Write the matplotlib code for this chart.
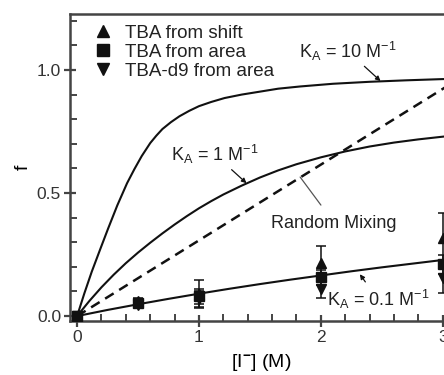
import matplotlib
matplotlib.use("Agg")
import matplotlib.pyplot as plt
from matplotlib.lines import Line2D
import numpy as np

INK, AXC = "#111111", "#444444"
plt.rcParams.update({
    "font.family": ["Liberation Sans", "DejaVu Sans"],
    "mathtext.fontset": "custom",
    "mathtext.rm": "Liberation Sans",
    "mathtext.it": "Liberation Sans:italic",
    "mathtext.bf": "Liberation Sans:bold",
    "text.color": "#222222",
})

# model curves
k10_c = [0, 0.06, 0.12, 0.19, 0.254, 0.33, 0.41, 0.47, 0.53, 0.6, 0.65, 0.7, 0.77, 0.84,
         0.92, 1.0, 1.1, 1.21, 1.35, 1.5, 1.65, 1.83, 2.1, 2.4, 2.7, 3.0, 3.25]
k10_f = [0, 0.093, 0.18, 0.272, 0.355, 0.45, 0.54, 0.597, 0.65, 0.703, 0.733, 0.76, 0.788, 0.812,
         0.834, 0.853, 0.87, 0.886, 0.9, 0.912, 0.924, 0.933, 0.944, 0.952, 0.958, 0.963, 0.966]
k1_c = [0, 0.1, 0.2, 0.3, 0.4, 0.5, 0.6, 0.7, 0.8, 0.9, 1.0, 1.1, 1.2, 1.35, 1.5, 1.65,
        1.8, 2.0, 2.2, 2.4, 2.6, 2.8, 3.0, 3.25]
k1_f = [0, 0.061, 0.117, 0.168, 0.215, 0.258, 0.298, 0.336, 0.372, 0.406, 0.438, 0.467, 0.494,
        0.53, 0.563, 0.592, 0.617, 0.645, 0.669, 0.689, 0.705, 0.718, 0.729, 0.741]
k01_c = [0, 0.25, 0.5, 0.75, 1.0, 1.25, 1.5, 1.75, 2.0, 2.25, 2.5, 2.75, 3.0, 3.25]
k01_f = [0, 0.025, 0.048, 0.07, 0.091, 0.111, 0.13, 0.148, 0.165, 0.182, 0.198, 0.213, 0.228, 0.242]
rm_c = [0, 3.25]
rm_f = [0, 1.0]

# measured points
conc = [0.0, 0.5, 1.0, 2.0, 3.0]
shift_f = [0.0, 0.062, 0.09, 0.215, 0.317]
shift_err = [0.0, 0.012, 0.055, 0.068, 0.10]
area_f = [0.0, 0.052, 0.08, 0.158, 0.21]
area_err = [0.0, 0.01, 0.03, 0.03, 0.04]
d9_f = [0.0, 0.045, 0.068, 0.11, 0.155]
d9_err = [0.0, 0.01, 0.035, 0.035, 0.062]
series = [("TBA from shift", "^", shift_f, shift_err),
          ("TBA from area", "s", area_f, area_err),
          ("TBA-d9 from area", "v", d9_f, d9_err)]

fig = plt.figure(figsize=(4.44, 3.75), dpi=100)
ax = fig.add_axes([0.158, 0.144, 0.894, 0.819])
ax.set_xlim(-0.057, 3.2)
ax.set_ylim(-0.02, 1.228)

for xs, ys in [(k10_c, k10_f), (k1_c, k1_f), (k01_c, k01_f)]:
    ax.plot(xs, ys, color=INK, lw=1.5, zorder=2, solid_joinstyle="round")
ax.plot(rm_c, rm_f, color=INK, lw=1.8, ls=(0, (4, 2.6)), zorder=2)

handles = []
for label, mk, f, err in series:
    m = 7.5 if mk != "s" else 6.5
    ax.errorbar(conc, f, yerr=err, fmt=mk, color=INK, ms=m, capsize=3.5,
                elinewidth=1.1, capthick=1.1, zorder=4)
    handles.append(Line2D([], [], ls="none", marker=mk, color=INK, ms=m + 1.5, label=label))

ax.legend(handles=handles, loc="upper left", frameon=False, fontsize=13.5, handletextpad=0.6,
          labelspacing=0.1, borderaxespad=0.0, handlelength=1.2,
          bbox_to_anchor=(0.035, 0.99))

ax.set_xticks([0, 1, 2, 3])
ax.set_xticks(np.arange(0, 3.21, 0.2), minor=True)
ax.set_yticks([0.0, 0.5, 1.0])
ax.set_yticks(np.arange(0, 1.21, 0.1), minor=True)
ax.yaxis.set_major_formatter(matplotlib.ticker.FormatStrFormatter("%.1f"))
ax.tick_params(which="major", direction="inout", length=9, width=1.6, color=AXC,
               labelsize=12.5, labelcolor="#333333", pad=2)
ax.tick_params(which="minor", direction="in", length=5, width=1.4, color=AXC)
for s in ax.spines.values():
    s.set_color(AXC)
    s.set_linewidth(1.8)

ax.set_ylabel("f", fontsize=14, labelpad=4)
ax.set_xlabel(r"[I$^{\mathbf{-}}$] (M)", fontsize=14)
ax.xaxis.set_label_coords((261 - 70) / 397, -0.1)

tkw = dict(fontsize=13, color="#222222")
arrow = dict(arrowstyle="-|>", color=INK, lw=0.9, mutation_scale=7, shrinkA=1, shrinkB=0)
ax.annotate(r"K$_\mathrm{A}$ = 10 M$^\mathrm{-1}$", xy=(2.49, 0.955), xytext=(2.22, 1.03),
            ha="center", va="bottom", arrowprops=arrow, **tkw)
ax.annotate(r"K$_\mathrm{A}$ = 1 M$^\mathrm{-1}$", xy=(1.39, 0.54), xytext=(1.13, 0.61),
            ha="center", va="bottom", arrowprops=arrow, **tkw)
ax.annotate("Random Mixing", xy=(1.83, 0.565), xytext=(2.11, 0.378),
            ha="center", va="center",
            arrowprops=dict(arrowstyle="-", color="#555555", lw=0.9, shrinkA=6, shrinkB=0), **tkw)
ax.annotate(r"K$_\mathrm{A}$ = 0.1 M$^\mathrm{-1}$", xy=(2.32, 0.17), xytext=(2.47, 0.02),
            ha="center", va="bottom", arrowprops=dict(arrow, shrinkA=3), **tkw)

fig.savefig("out.png", dpi=100)
